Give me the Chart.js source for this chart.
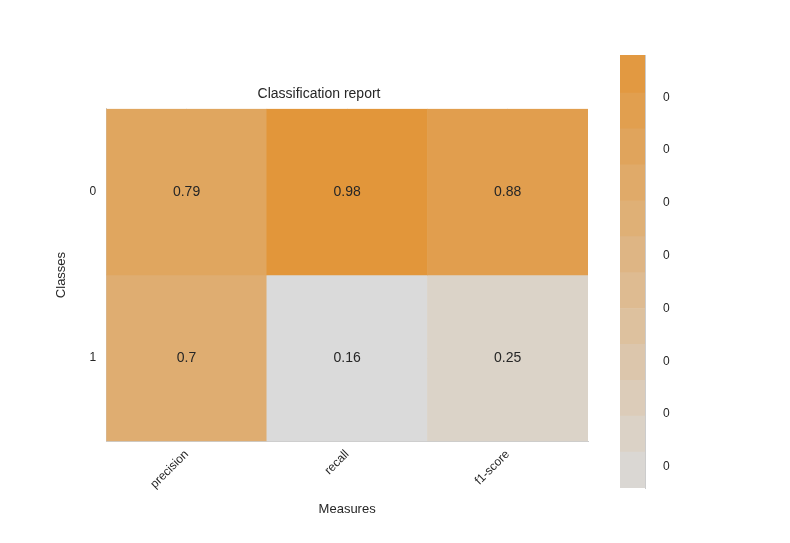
<!DOCTYPE html><html><head><script src="https://cdn.jsdelivr.net/npm/chart.js@4"></script>
<style>body{margin:0;background:#fff}#a{position:absolute;left:0;top:0}#b{position:absolute;left:560;top:0}</style></head><body>
<div style="position:absolute;left:0;top:0;width:600px;height:543px"><canvas id="a"></canvas></div>
<div style="position:absolute;left:580px;top:0;width:120px;height:543px"><canvas id="b"></canvas></div>
<script>
const measures=['precision','recall','f1-score'];
const classes=['0','1'];
const values=[[0.79,0.98,0.88],[0.7,0.16,0.25]];
const cbTicks=[0.2,0.3,0.4,0.5,0.6,0.7,0.8,0.9];
const cbEdges=[0.16,0.228,0.296,0.364,0.432,0.5,0.568,0.636,0.704,0.772,0.84,0.908,0.98];
const vmin=0.16,vmax=0.98;
function col(v){const t=Math.max(0,Math.min(1,(v-vmin)/(vmax-vmin)));
const a=[218,218,218],b=[226,150,58];return `rgb(${a.map((x,i)=>Math.round(x+(b[i]-x)*t)).join(',')})`;}
Chart.defaults.font.family='"Liberation Sans", Arial, sans-serif';
Chart.defaults.color='#262626';
Chart.defaults.animation=false;
const ds=classes.map((c,r)=>({data:values[r].map(v=>[r-0.5,r+0.5]),backgroundColor:values[r].map(col),grouped:false,barPercentage:1,categoryPercentage:1,borderWidth:0}));
const txt={id:'txt',afterDraw(ch){const {ctx,scales:{x,y}}=ch;ctx.save();ctx.font='14px "Liberation Sans", Arial';ctx.fillStyle='#262626';ctx.textAlign='center';ctx.textBaseline='middle';
values.forEach((row,r)=>row.forEach((v,i)=>ctx.fillText(String(v),x.getPixelForValue(i),y.getPixelForValue(r))));ctx.restore();}};
new Chart(document.getElementById('a'),{type:'bar',data:{labels:measures,datasets:ds},plugins:[txt],
options:{responsive:true,maintainAspectRatio:false,layout:{padding:{left:50,right:12,top:0,bottom:22}},
plugins:{legend:{display:false},tooltip:{enabled:false},title:{display:true,text:'Classification report',font:{size:14,weight:'normal'},padding:{top:86,bottom:6},color:'#262626'}},
scales:{x:{z:1,grid:{color:'#cfcfcf',offset:false,drawTicks:false},border:{color:'#cccccc'},ticks:{maxRotation:45,minRotation:45,font:{size:12},padding:6},title:{display:true,text:'Measures',font:{size:13},padding:{top:4}}},
y:{z:1,type:'linear',min:-0.5,max:1.5,reverse:true,afterBuildTicks(s){s.ticks=[{value:0},{value:1}];},grid:{color:'#cfcfcf',drawTicks:false},border:{color:'#cccccc'},ticks:{font:{size:12},padding:10,callback:v=>classes[v]},title:{display:true,text:'Classes',font:{size:13},padding:{bottom:10}}}}}});
const cds=cbEdges.slice(0,-1).map((lo,i)=>({data:[[lo,cbEdges[i+1]]],backgroundColor:col((lo+cbEdges[i+1])/2),grouped:false,barPercentage:1,categoryPercentage:1,borderWidth:0}));
new Chart(document.getElementById('b'),{type:'bar',data:{labels:['cb'],datasets:cds},
options:{responsive:true,maintainAspectRatio:false,layout:{padding:{left:40,right:30,top:55,bottom:55}},
plugins:{legend:{display:false},tooltip:{enabled:false}},
scales:{x:{display:false},y:{position:'right',min:vmin,max:vmax,afterBuildTicks(s){s.ticks=cbTicks.map(v=>({value:v}));},grid:{display:false},border:{color:'#cccccc'},ticks:{font:{size:12},padding:10,callback:v=>v.toFixed(1)}}}}});
</script></body></html>
